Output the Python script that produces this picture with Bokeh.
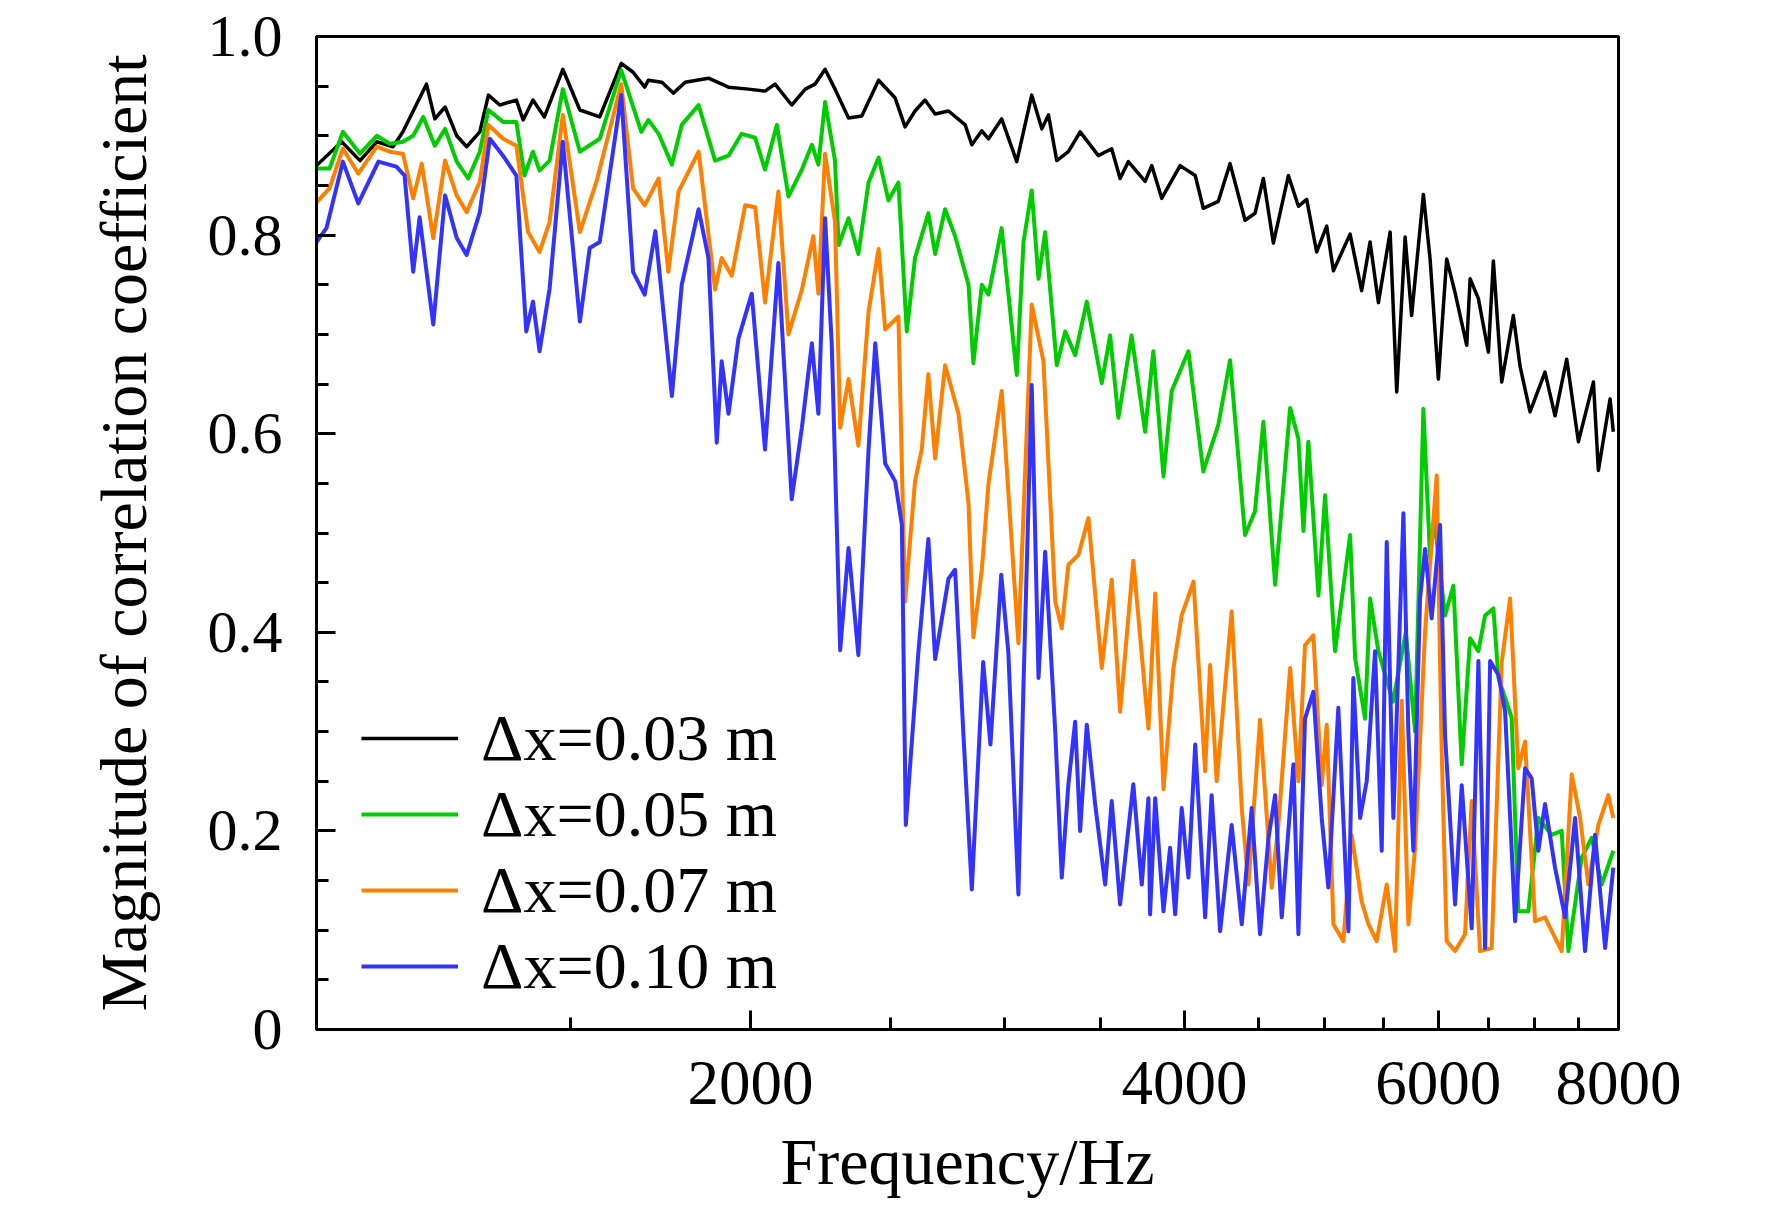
from bokeh.plotting import figure
from bokeh.models import FixedTicker, NumeralTickFormatter, CustomJSTickFormatter, Legend, LegendItem
from bokeh.embed import file_html
from bokeh.resources import INLINE

# ---------------- data ----------------
freq_003 = [1000, 1041, 1072, 1101, 1130, 1148, 1192, 1208, 1228, 1251, 1271, 1298, 1316, 1340, 1376, 1391,
            1413, 1439, 1482, 1523, 1572, 1627, 1658, 1689, 1699, 1736, 1768, 1802, 1870, 1931, 1994, 2047,
            2080, 2136, 2183, 2217, 2253, 2289, 2339, 2389, 2454, 2520, 2560, 2601, 2643, 2686, 2744, 2818,
            2848, 2894, 2925, 2987, 3060, 3134, 3185, 3219, 3262, 3323, 3386, 3486, 3561, 3609, 3657, 3756,
            3796, 3857, 3972, 4069, 4122, 4222, 4302, 4406, 4477, 4537, 4610, 4722, 4798, 4862, 4940, 5020,
            5074, 5211, 5308, 5380, 5452, 5555, 5614, 5690, 5749, 5858, 5921, 6000, 6080, 6162, 6278, 6312,
            6396, 6499, 6551, 6639, 6763, 6836, 6946, 7114, 7229, 7365, 7504, 7686, 7747, 7893, 7934]
corr_003 = [0.870, 0.894, 0.875, 0.894, 0.889, 0.904, 0.952, 0.917, 0.929, 0.900, 0.889, 0.904, 0.941, 0.931,
            0.936, 0.916, 0.936, 0.919, 0.967, 0.926, 0.919, 0.973, 0.964, 0.949, 0.956, 0.954, 0.943, 0.954,
            0.958, 0.949, 0.947, 0.945, 0.952, 0.931, 0.947, 0.952, 0.967, 0.947, 0.918, 0.920, 0.956, 0.938,
            0.909, 0.925, 0.936, 0.922, 0.925, 0.911, 0.891, 0.905, 0.897, 0.917, 0.874, 0.941, 0.907, 0.921,
            0.875, 0.884, 0.904, 0.880, 0.887, 0.857, 0.874, 0.854, 0.870, 0.837, 0.870, 0.860, 0.827, 0.834,
            0.872, 0.815, 0.822, 0.857, 0.792, 0.860, 0.829, 0.836, 0.783, 0.809, 0.764, 0.801, 0.744, 0.793,
            0.732, 0.803, 0.642, 0.798, 0.719, 0.841, 0.776, 0.655, 0.776, 0.742, 0.689, 0.756, 0.736, 0.682,
            0.774, 0.652, 0.719, 0.668, 0.622, 0.662, 0.618, 0.675, 0.592, 0.652, 0.563, 0.635, 0.602]

freq_005 = [1000, 1021, 1043, 1072, 1101, 1124, 1148, 1167, 1186, 1208, 1228, 1251, 1274, 1298, 1316, 1347,
            1376, 1394, 1413, 1428, 1451, 1482, 1523, 1572, 1627, 1680, 1699, 1727, 1764, 1792, 1841, 1890,
            1931, 1972, 2015, 2047, 2086, 2125, 2171, 2206, 2229, 2253, 2289, 2302, 2339, 2376, 2415, 2454,
            2493, 2533, 2567, 2601, 2657, 2686, 2729, 2773, 2833, 2855, 2894, 2925, 2987, 3060, 3093, 3134,
            3168, 3202, 3262, 3306, 3359, 3422, 3505, 3552, 3599, 3676, 3756, 3806, 3868, 3919, 4025, 4122,
            4222, 4302, 4406, 4477, 4537, 4623, 4735, 4798, 4837, 4875, 4954, 5007, 5087, 5211, 5253, 5337,
            5380, 5452, 5580, 5696, 5781, 5858, 5921, 5960, 6064, 6146, 6228, 6312, 6396, 6465, 6551, 6604,
            6745, 6817, 6927, 7039, 7190, 7306, 7385, 7543, 7665, 7788, 7934]
corr_005 = [0.867, 0.867, 0.904, 0.882, 0.900, 0.892, 0.894, 0.900, 0.919, 0.890, 0.907, 0.874, 0.857, 0.884,
            0.926, 0.914, 0.914, 0.860, 0.884, 0.865, 0.875, 0.947, 0.884, 0.897, 0.966, 0.904, 0.916, 0.902,
            0.871, 0.911, 0.931, 0.875, 0.880, 0.902, 0.898, 0.866, 0.911, 0.839, 0.866, 0.891, 0.871, 0.934,
            0.875, 0.790, 0.817, 0.781, 0.853, 0.878, 0.835, 0.853, 0.703, 0.777, 0.822, 0.781, 0.826, 0.799,
            0.750, 0.671, 0.750, 0.740, 0.807, 0.659, 0.793, 0.845, 0.756, 0.803, 0.669, 0.703, 0.679, 0.733,
            0.651, 0.699, 0.616, 0.699, 0.602, 0.683, 0.557, 0.643, 0.683, 0.562, 0.609, 0.674, 0.498, 0.522,
            0.612, 0.448, 0.626, 0.595, 0.502, 0.592, 0.437, 0.538, 0.381, 0.498, 0.374, 0.313, 0.434, 0.381,
            0.330, 0.400, 0.300, 0.625, 0.475, 0.515, 0.417, 0.447, 0.267, 0.394, 0.381, 0.417, 0.424, 0.354,
            0.314, 0.119, 0.119, 0.213, 0.196, 0.200, 0.079, 0.173, 0.193, 0.146, 0.180]

freq_007 = [1000, 1021, 1043, 1069, 1101, 1124, 1148, 1167, 1183, 1205, 1228, 1251, 1271, 1298, 1316, 1347,
            1376, 1402, 1428, 1451, 1482, 1523, 1564, 1627, 1658, 1689, 1727, 1754, 1783, 1841, 1890, 1910,
            1941, 1983, 2015, 2047, 2091, 2125, 2171, 2211, 2229, 2253, 2289, 2308, 2339, 2376, 2415, 2454,
            2480, 2533, 2560, 2601, 2629, 2657, 2686, 2729, 2788, 2833, 2855, 2894, 2925, 2987, 3068, 3134,
            3193, 3254, 3288, 3323, 3377, 3431, 3505, 3561, 3609, 3686, 3776, 3817, 3868, 3930, 3982, 4058,
            4134, 4167, 4211, 4313, 4383, 4430, 4513, 4598, 4647, 4735, 4798, 4849, 4914, 4980, 5020, 5074,
            5155, 5224, 5308, 5366, 5437, 5525, 5599, 5659, 5719, 5781, 5874, 5984, 6032, 6080, 6162, 6261,
            6328, 6413, 6533, 6639, 6728, 6817, 6891, 7002, 7114, 7306, 7424, 7524, 7624, 7747, 7871, 7934]
corr_007 = [0.833, 0.847, 0.887, 0.862, 0.889, 0.884, 0.882, 0.837, 0.872, 0.797, 0.875, 0.840, 0.823, 0.854,
            0.911, 0.897, 0.890, 0.803, 0.783, 0.813, 0.921, 0.803, 0.854, 0.952, 0.847, 0.830, 0.857, 0.763,
            0.844, 0.884, 0.745, 0.777, 0.759, 0.830, 0.828, 0.732, 0.844, 0.700, 0.745, 0.799, 0.741, 0.882,
            0.813, 0.606, 0.655, 0.588, 0.723, 0.786, 0.705, 0.718, 0.431, 0.552, 0.584, 0.660, 0.575, 0.669,
            0.620, 0.530, 0.395, 0.463, 0.550, 0.643, 0.389, 0.730, 0.673, 0.431, 0.404, 0.468, 0.478, 0.515,
            0.364, 0.453, 0.320, 0.472, 0.303, 0.439, 0.242, 0.364, 0.417, 0.451, 0.260, 0.367, 0.250, 0.421,
            0.223, 0.146, 0.312, 0.143, 0.206, 0.364, 0.250, 0.387, 0.397, 0.246, 0.307, 0.106, 0.089, 0.196,
            0.129, 0.106, 0.089, 0.146, 0.079, 0.331, 0.106, 0.183, 0.401, 0.558, 0.280, 0.089, 0.079, 0.096,
            0.230, 0.079, 0.082, 0.370, 0.434, 0.263, 0.290, 0.109, 0.113, 0.079, 0.257, 0.213, 0.146, 0.206,
            0.236, 0.213]

freq_010 = [1000, 1016, 1043, 1069, 1104, 1136, 1151, 1167, 1179, 1205, 1228, 1251, 1271, 1298, 1319, 1347,
            1376, 1398, 1413, 1428, 1451, 1482, 1523, 1547, 1572, 1627, 1658, 1689, 1718, 1764, 1792, 1841,
            1870, 1895, 1910, 1931, 1962, 2004, 2047, 2091, 2136, 2171, 2206, 2229, 2253, 2277, 2308, 2339,
            2376, 2415, 2441, 2480, 2520, 2547, 2563, 2615, 2657, 2686, 2744, 2773, 2810, 2848, 2900, 2934,
            2985, 3019, 3068, 3093, 3134, 3168, 3202, 3254, 3288, 3323, 3359, 3386, 3422, 3468, 3524, 3561,
            3609, 3686, 3736, 3776, 3786, 3817, 3868, 3909, 3941, 3982, 4025, 4069, 4134, 4177, 4234, 4313,
            4383, 4453, 4513, 4574, 4623, 4672, 4760, 4798, 4849, 4914, 4980, 5033, 5114, 5197, 5238, 5295,
            5351, 5423, 5481, 5525, 5584, 5674, 5719, 5765, 5827, 5874, 5936, 6016, 6064, 6162, 6228, 6328,
            6396, 6465, 6517, 6604, 6675, 6782, 6891, 6964, 7039, 7114, 7229, 7346, 7464, 7584, 7706, 7831,
            7934]
corr_010 = [0.793, 0.807, 0.874, 0.832, 0.874, 0.869, 0.860, 0.763, 0.818, 0.710, 0.840, 0.797, 0.780, 0.823,
            0.897, 0.880, 0.860, 0.703, 0.733, 0.683, 0.746, 0.894, 0.713, 0.787, 0.793, 0.941, 0.763, 0.740,
            0.804, 0.638, 0.750, 0.826, 0.777, 0.591, 0.673, 0.620, 0.696, 0.741, 0.584, 0.772, 0.534, 0.606,
            0.691, 0.620, 0.817, 0.691, 0.382, 0.485, 0.377, 0.584, 0.691, 0.570, 0.552, 0.508, 0.206, 0.380,
            0.494, 0.373, 0.454, 0.463, 0.297, 0.141, 0.370, 0.287, 0.458, 0.380, 0.136, 0.347, 0.649, 0.354,
            0.481, 0.300, 0.153, 0.247, 0.310, 0.200, 0.307, 0.227, 0.146, 0.230, 0.126, 0.247, 0.146, 0.233,
            0.116, 0.233, 0.119, 0.183, 0.116, 0.223, 0.153, 0.287, 0.113, 0.236, 0.099, 0.206, 0.106, 0.223,
            0.096, 0.193, 0.236, 0.113, 0.267, 0.096, 0.313, 0.340, 0.213, 0.143, 0.324, 0.099, 0.354, 0.213,
            0.250, 0.381, 0.180, 0.491, 0.213, 0.520, 0.300, 0.180, 0.434, 0.484, 0.414, 0.508, 0.297, 0.126,
            0.246, 0.102, 0.371, 0.082, 0.371, 0.357, 0.320, 0.109, 0.263, 0.253, 0.180, 0.227, 0.163, 0.113,
            0.213, 0.079, 0.196, 0.082, 0.163]

legend_labels = ["\u0394x=0.03 m", "\u0394x=0.05 m", "\u0394x=0.07 m", "\u0394x=0.10 m"]
x_major = [2000, 4000, 6000, 8000]
x_minor = [1500, 2500, 3000, 3500, 4500, 5000, 5500, 6500, 7000, 7500]
y_major = [0, 0.2, 0.4, 0.6, 0.8, 1.0]
y_minor = [0.05, 0.1, 0.15, 0.25, 0.3, 0.35, 0.45, 0.5, 0.55, 0.65, 0.7, 0.75, 0.85, 0.9, 0.95]
x_title = "Frequency/Hz"
y_title = "Magnitude of correlation coefficient"

FONT = "Liberation Serif"

p = figure(frame_width=1302, frame_height=993, x_axis_type="log",
           x_range=(1000, 8000), y_range=(0, 1.0),
           output_backend="svg", toolbar_location=None,
           min_border_left=316, min_border_right=138, min_border_top=36, min_border_bottom=176)
p.background_fill_color = "white"
p.border_fill_color = "white"
p.grid.visible = False
p.outline_line_color = "black"
p.outline_line_width = 3

series = [(freq_003, corr_003, "#000000", 3.5),
          (freq_005, corr_005, "#00CC00", 4.0),
          (freq_007, corr_007, "#FF8000", 4.0),
          (freq_010, corr_010, "#3333FF", 4.0)]
renderers = []
for fx, cy, col, lw in series:
    r = p.line(fx, cy, line_color=col, line_width=lw, line_join="round")
    renderers.append(r)

# axes
xa = p.xaxis[0]
xa.ticker = FixedTicker(ticks=x_major, minor_ticks=x_minor)
xa.formatter = NumeralTickFormatter(format="0")
ya = p.yaxis[0]
ya.ticker = FixedTicker(ticks=y_major, minor_ticks=y_minor)
ya.formatter = CustomJSTickFormatter(code="return tick == 0 ? '0' : tick.toFixed(1);")

for ax in (xa, ya):
    ax.axis_line_width = 3
    ax.major_tick_line_width = 3
    ax.minor_tick_line_width = 3
    ax.major_tick_in = 19
    ax.major_tick_out = 0
    ax.minor_tick_in = 12
    ax.minor_tick_out = 0
    ax.major_label_text_font = FONT
    ax.major_label_text_color = "black"
    ax.axis_label_text_font = FONT
    ax.axis_label_text_font_size = "66px"
    ax.axis_label_text_font_style = "normal"
    ax.axis_label_text_color = "black"

xa.major_label_text_font_size = "63px"
ya.major_label_text_font_size = "60px"
xa.axis_label = x_title
xa.major_label_standoff = 32
xa.axis_label_standoff = 18
ya.axis_label = y_title
ya.major_label_standoff = 34
ya.axis_label_standoff = 45

items = [LegendItem(label=lab, renderers=[r]) for lab, r in zip(legend_labels, renderers)]
legend = Legend(items=items, location=(45, 25), orientation="vertical",
                glyph_width=97, glyph_height=76, label_height=76, label_standoff=23,
                spacing=0, padding=0, margin=0,
                label_text_font=FONT, label_text_font_size="66px", label_text_color="black",
                border_line_color=None, background_fill_alpha=0)
p.add_layout(legend, "center")

open("out.html", "w").write(file_html(p, INLINE))
